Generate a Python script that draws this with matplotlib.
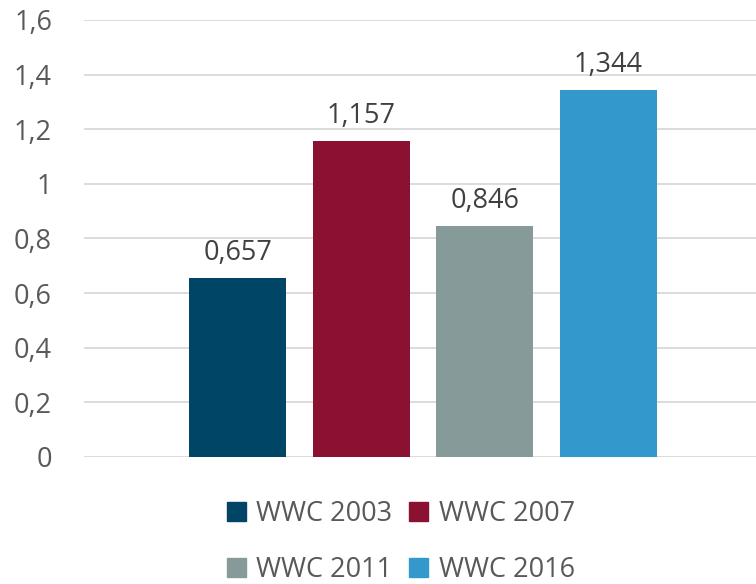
import matplotlib
matplotlib.use("Agg")
import matplotlib.pyplot as plt
import numpy as np

series = ["WWC 2003", "WWC 2007", "WWC 2011", "WWC 2016"]
values = [0.657, 1.157, 0.846, 1.344]
colors = ["#004466", "#8B1133", "#869A9A", "#3399CC"]
yticks = [0, 0.2, 0.4, 0.6, 0.8, 1.0, 1.2, 1.4, 1.6]

plt.rcParams['font.family'] = ['Open Sans', 'DejaVu Sans']

fig = plt.figure(figsize=(7.56, 5.84), dpi=100)
ax = fig.add_axes([0.111, 0.2175, 0.889, 0.7483])

x = np.arange(len(values))
bars = ax.bar(x, values, width=0.785, color=colors, label=series, zorder=3)
for xi, v in zip(x, values):
    ax.text(xi, v + 0.04, f"{v:.3f}".replace('.', ','), ha='center', va='bottom',
            fontsize=19.5, color='#404040')

ax.set_xlim(-1.244, 4.196)
ax.set_ylim(0, 1.6)
ax.set_yticks(yticks)
ax.set_yticklabels([(f"{t:g}").replace('.', ',') for t in yticks])
ax.yaxis.grid(True, color='#D9D9D9', linewidth=1.3, zorder=0)
ax.set_xticks([])
for s in ax.spines.values():
    s.set_visible(False)
ax.tick_params(axis='y', length=0, pad=23, labelsize=19.5, labelcolor='#595959')

handles = [plt.Rectangle((0, 0), 1, 1, color=c) for c in colors]
order = [0, 2, 1, 3]
fig.legend([handles[i] for i in order], [series[i] for i in order],
           loc='lower center', bbox_to_anchor=(0.53, -0.042), ncol=2,
           frameon=False, fontsize=19.5, labelcolor='#595959', handlelength=0.7,
           handleheight=0.7, handletextpad=0.4, columnspacing=0.6, labelspacing=1.05)

fig.savefig("out.png", dpi=100)
